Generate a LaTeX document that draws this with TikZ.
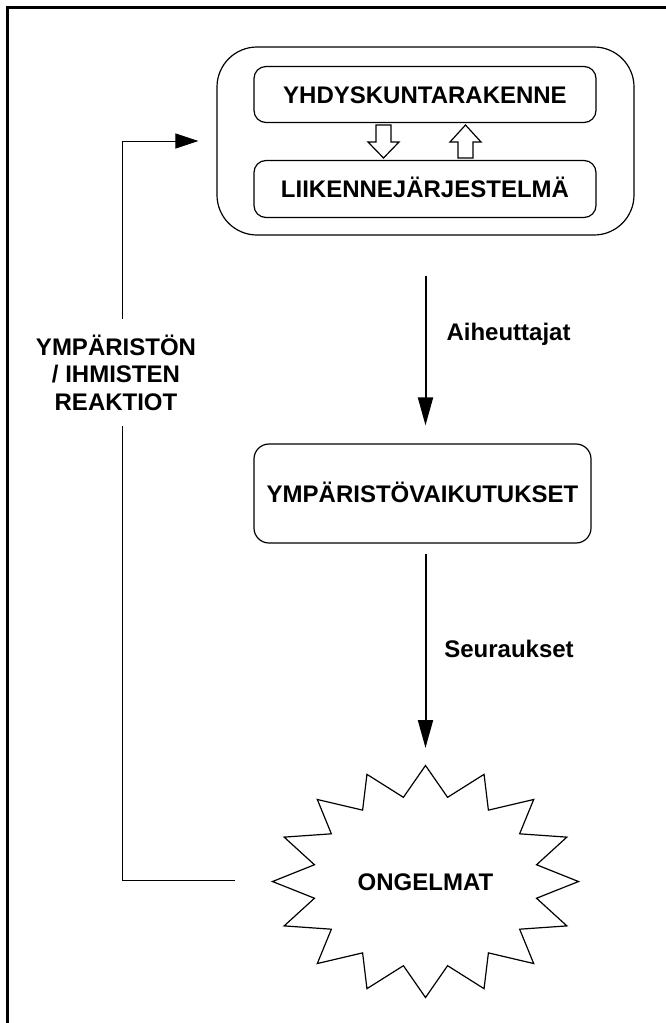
\documentclass[tikz,border=0pt]{standalone}
\usepackage{fontspec}
\setmainfont{Liberation Sans}
\usetikzlibrary{arrows.meta}

\tikzset{
  txt/.style={font=\bfseries\fontsize{24}{27.5}\selectfont, inner sep=0pt},
  box/.style={txt, draw, line width=1.2pt, rounded corners=12pt, text height=17.2pt, text depth=0pt},
  hollow/.style={draw, line width=1.2pt, fill=white, line join=miter},
  mainarrow/.style={line width=2pt, -{Triangle[length=28pt,width=15pt]}},
  backarrow/.style={line width=1pt, -{Triangle[length=23pt,width=15pt]}},
}

\begin{document}
\begin{tikzpicture}[x=1pt,y=-1pt]
\useasboundingbox (0,0) rectangle (666,1023);
\fill[white] (0,0) rectangle (666,1023);
\clip (0,0) rectangle (666,1023);

% page frame
\draw[line width=3pt] (7,7) rectangle (720,1080);

% system block with its two parts
\node[box, rounded corners=40pt, minimum width=417pt, minimum height=188pt] (outer) at (425.5,141) {};
\node[box, minimum width=342pt, minimum height=56pt] (yhd) at (425,94.5) {YHDYSKUNTARAKENNE};
\node[box, minimum width=342pt, minimum height=57pt] (lii) at (425,189) {LIIKENNEJÄRJESTELMÄ};

% interaction arrows between the parts
\draw[hollow] (376,125) -- (391,125) -- (391,142) -- (399,142) -- (383.5,158)
  -- (368,142) -- (376,142) -- cycle;
\draw[hollow] (458,158) -- (473,158) -- (473,142) -- (481,142) -- (465.5,125)
  -- (450,142) -- (458,142) -- cycle;

% effects
\node[box, rounded corners=15pt, minimum width=337pt, minimum height=99pt] (vaik) at (422.5,493.5) {YMPÄRISTÖVAIKUTUKSET};

% problems: sixteen-point star
\coordinate (startop) at (425.5,766);
\draw[line width=1.2pt, line join=miter, fill=white]
  plot[samples at={0,1,...,31}]
  ({425.5+153*(mod(\x,2)==0 ? 1 : 0.74)*cos(90+\x*11.25)},
   {881.5-116*(mod(\x,2)==0 ? 1 : 0.74)*sin(90+\x*11.25)}) -- cycle;
\node[txt, anchor=base] (ong) at (425.5,890) {ONGELMAT};

% forward chain
\draw[mainarrow, shorten <=40pt, shorten >=18pt] (outer.south) -- (outer.south |- vaik.north);
\node[txt, anchor=base] (aih) at (508.5,340) {Aiheuttajat};
\draw[mainarrow, shorten <=10pt, shorten >=18pt] (vaik.south -| startop) -- (startop);
\node[txt, anchor=base] (seu) at (509,657) {Seuraukset};

% feedback loop
\coordinate (fbend) at (235,880);
\coordinate (fbx) at (122,880);
\draw[backarrow, shorten >=18pt] (fbend) -- (fbx) |- (outer.west);
\node[txt, align=center, fill=white, inner ysep=15.5pt, inner xsep=2pt] (reak) at (116,372.5)
  {YMPÄRISTÖN\\/ IHMISTEN\\REAKTIOT};
\end{tikzpicture}
\end{document}
